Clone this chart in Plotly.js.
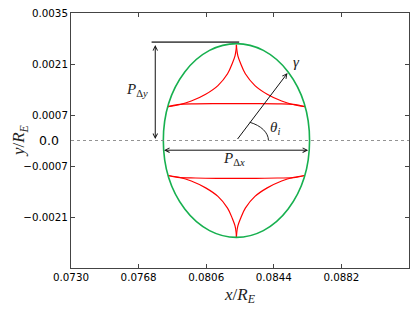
<!DOCTYPE html>
<html><head><meta charset="utf-8">
<script src="https://cdn.plot.ly/plotly-3.0.1.min.js"></script>
<style>html,body{margin:0;padding:0;background:#fff}</style>
</head><body><div id="chart" style="width:415px;height:312px"></div>
<script>
// axis ticks
const xTickVals = [0.0730, 0.0768, 0.0806, 0.0844, 0.0882];
const xTickText = ['0.0730', '0.0768', '0.0806', '0.0844', '0.0882'];
const yTickVals = [-0.0021, -0.0007, 0.0007, 0.0021, 0.0035];
const yTickText = ['\u22120.0021', '\u22120.0007', '0.0007', '0.0021', '0.0035'];

// green boundary ellipse extents
const ellipseX = [0.07819, 0.08641];
const ellipseY = [-0.00266, 0.00266];

// red caustic curves
const arcLeftX  = [0.08230, 0.08228, 0.08222, 0.08207, 0.08180, 0.08126, 0.08057, 0.07976, 0.07907, 0.07845];
const arcRightX = [0.08230, 0.08232, 0.08238, 0.08253, 0.08280, 0.08334, 0.08403, 0.08484, 0.08553, 0.08615];
const arcUpperY = [0.00263, 0.002494, 0.002324, 0.00212, 0.001831, 0.001508, 0.00127, 0.001083, 0.000981, 0.00093];
const arcLowerY = [-0.00265, -0.002515, -0.002345, -0.00214, -0.001856, -0.001535, -0.0013, -0.00111, -0.00101, -0.00096];
const baseX      = [0.07845, 0.0790, 0.0800, 0.0812, 0.0823, 0.0834, 0.0846, 0.0855, 0.08615];
const baseUpperY = [0.00093, 0.000985, 0.001005, 0.00101, 0.00101, 0.00101, 0.001005, 0.00099, 0.00093];
const baseLowerY = [-0.00096, -0.00101, -0.00103, -0.00104, -0.00104, -0.00104, -0.00103, -0.00102, -0.00096];

// annotation geometry
const centerPt = [0.0823, 0.0];
const gammaTip = [0.08517, 0.00185];
const pdyX = 0.077736, pdyTop = 0.00270;
const topLineX = [0.07753, 0.082455];
const pdxY = -0.000266, pdxX = [0.078146, 0.086331];

const RED = '#ff0000', GREEN = '#17b04f';
function redLine(x, y) {
  return {x: x, y: y, type: 'scatter', mode: 'lines', line: {color: RED, width: 1.2, shape: 'spline', smoothing: 1}, hoverinfo: 'skip', showlegend: false};
}
const traces = [
  redLine(arcLeftX, arcUpperY), redLine(arcRightX, arcUpperY), redLine(baseX, baseUpperY),
  redLine(arcLeftX, arcLowerY), redLine(arcRightX, arcLowerY), redLine(baseX, baseLowerY)
];

const mathFont = {family: 'Liberation Serif, serif', size: 15, color: '#222'};
const titleFont = {family: 'Liberation Serif, serif', size: 17, color: '#222'};
const tickFont = {family: 'DejaVu Sans, sans-serif', size: 10.3, color: '#000'};
const arrowCommon = {xref: 'x', yref: 'y', axref: 'x', ayref: 'y', text: '', showarrow: true, arrowsize: 0.9, arrowwidth: 1, arrowcolor: '#111', standoff: 0, startstandoff: 0};

const layout = {
  width: 415, height: 312,
  margin: {l: 71, r: 6, t: 13, b: 44},
  paper_bgcolor: '#fff', plot_bgcolor: '#fff',
  showlegend: false,
  xaxis: {
    range: [0.0730, 0.0920], tickvals: xTickVals, ticktext: xTickText,
    ticks: 'inside', ticklen: 4, tickcolor: '#444', mirror: 'ticks',
    showline: true, linecolor: '#444', linewidth: 1, showgrid: false, zeroline: false,
    tickfont: tickFont,
    title: {text: '<i>x</i>/<i>R</i><sub><i>E</i></sub>', font: titleFont, standoff: 5}
  },
  yaxis: {
    range: [-0.0035, 0.0035], tickvals: yTickVals, ticktext: yTickText,
    ticks: 'inside', ticklen: 4, tickcolor: '#444', mirror: 'ticks',
    showline: true, linecolor: '#444', linewidth: 1, showgrid: false, zeroline: false,
    tickfont: tickFont
  },
  shapes: [
    {type: 'circle', xref: 'x', yref: 'y', x0: ellipseX[0], x1: ellipseX[1], y0: ellipseY[0], y1: ellipseY[1], line: {color: GREEN, width: 1.6}},
    {type: 'line', xref: 'paper', yref: 'y', x0: 0, x1: 1, y0: 0, y1: 0, line: {color: '#777', width: 0.8, dash: 'dot'}},
    {type: 'line', xref: 'x', yref: 'y', x0: topLineX[0], x1: topLineX[1], y0: pdyTop, y1: pdyTop, line: {color: '#555', width: 1.6}},
    {type: 'path', xref: 'x', yref: 'y', path: 'M0.0841,0 C0.0841,0.000215 0.083688,0.00041 0.083049,0.0005', line: {color: '#222', width: 1}}
  ],
  annotations: [
    // y-axis title
    {x: -0.152, y: 0.5, xref: 'paper', yref: 'paper', xanchor: 'center', yanchor: 'middle', textangle: -90, text: '<i>y</i>/<i>R</i><sub><i>E</i></sub>', showarrow: false, font: titleFont},
    // vertical double arrow
    Object.assign({x: pdyX, y: 0.00004, ax: pdyX, ay: pdyTop - 0.00004, arrowhead: 5, startarrowhead: 5, arrowside: 'end+start', startarrowsize: 0.9}, arrowCommon),
    // horizontal double arrow
    Object.assign({x: pdxX[1], y: pdxY, ax: pdxX[0], ay: pdxY, arrowhead: 5, startarrowhead: 5, arrowside: 'end+start', startarrowsize: 0.9}, arrowCommon),
    // gamma arrow
    Object.assign({x: gammaTip[0], y: gammaTip[1], ax: centerPt[0], ay: centerPt[1], arrowhead: 5}, arrowCommon),
    {x: 0.07669, y: 0.00138, xref: 'x', yref: 'y', text: '<i>P</i><sub>\u0394<i>y</i></sub>', showarrow: false, font: mathFont},
    {x: 0.08216, y: -0.00052, xref: 'x', yref: 'y', text: '<i>P</i><sub>\u0394<i>x</i></sub>', showarrow: false, font: mathFont},
    {x: 0.08568, y: 0.00216, xref: 'x', yref: 'y', text: '<i>\u03b3</i>', showarrow: false, font: mathFont},
    {x: 0.08446, y: 0.00033, xref: 'x', yref: 'y', text: '<i>\u03b8</i><sub><i>i</i></sub>', showarrow: false, font: mathFont},
    // extra "0.0" tick label
    {x: -0.03, y: 0, xref: 'paper', yref: 'y', xanchor: 'right', yanchor: 'middle', text: '0.0', showarrow: false, font: {family: 'DejaVu Sans, sans-serif', size: 12.5, color: '#000'}}
  ]
};

Plotly.newPlot('chart', traces, layout, {staticPlot: true, displayModeBar: false});
</script>
</body></html>
